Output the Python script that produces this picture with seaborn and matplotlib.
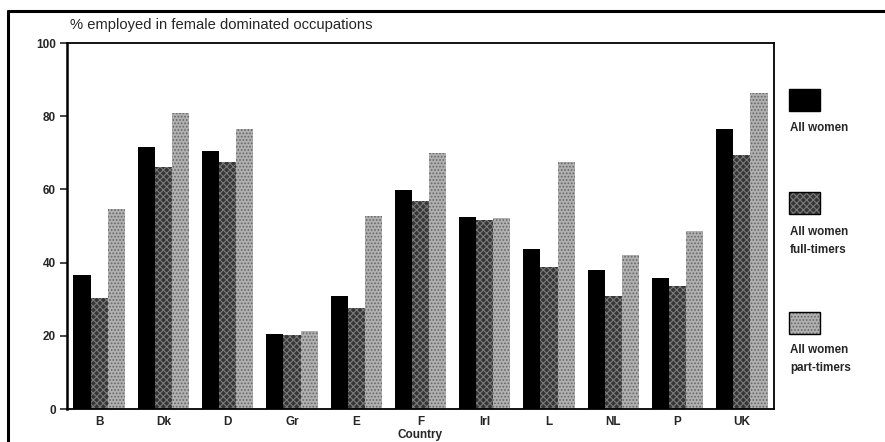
import matplotlib
matplotlib.use("Agg")
import matplotlib.pyplot as plt
from matplotlib.lines import Line2D
from matplotlib.patches import Rectangle
import seaborn as sns
import pandas as pd

countries = ["B", "Dk", "D", "Gr", "E", "F", "Irl", "L", "NL", "P", "UK"]
all_women = [36.5, 71.7, 70.5, 20.5, 30.9, 59.8, 52.5, 43.6, 37.9, 35.8, 76.4]
full_timers = [30.3, 66.0, 67.5, 20.3, 27.7, 56.9, 51.7, 38.7, 30.9, 33.6, 69.3]
part_timers = [54.7, 81.0, 76.6, 21.2, 52.7, 70.0, 52.1, 67.5, 42.1, 48.7, 86.3]
series = ["All women", "All women\nfull-timers", "All women\npart-timers"]
yticks = [0, 20, 40, 60, 80, 100]

df = pd.DataFrame({
    "Country": countries * 3,
    "value": all_women + full_timers + part_timers,
    "group": [series[0]] * len(countries) + [series[1]] * len(countries)
    + [series[2]] * len(countries),
})

sns.set_theme(style="white")
plt.rcParams["font.family"] = ["Liberation Sans", "DejaVu Sans"]
plt.rcParams["hatch.linewidth"] = 0.8

colors = ["#000000", "#363636", "#b0b0b0"]
hatches = [None, "xxxxx", "....."]
hatch_cols = [None, "#7a7a7a", "#666666"]

fig = plt.figure(figsize=(8.85, 4.42), dpi=100)
ax = fig.add_axes([67 / 885, 1 - 409 / 442, (774 - 67) / 885, (409 - 43) / 442])

sns.barplot(data=df, x="Country", y="value", hue="group", hue_order=series,
            palette=colors, width=0.8, saturation=1, linewidth=0,
            legend=False, ax=ax)

for cont, col, h, hc in zip(ax.containers, colors, hatches, hatch_cols):
    for bar in cont:
        if h:
            bar.set_hatch(h)
            bar.set_edgecolor(hc)
            bar.set_linewidth(0)

ax.set_xlim(-0.5, len(countries) - 0.5)
ax.set_ylim(0, 100)
ax.set_yticks(yticks)
ax.set_yticklabels([str(t) for t in yticks], fontsize=8.5, fontweight="bold")
ax.tick_params(axis="y", direction="out", length=5, width=1.2, pad=3, left=True)
ax.tick_params(axis="x", length=0, pad=5)
for lab in ax.get_xticklabels():
    lab.set_fontsize(8.5)
    lab.set_fontweight("bold")
ax.set_xlabel("Country", fontsize=8.5, fontweight="bold", labelpad=1)
ax.set_ylabel("")
for s in ax.spines.values():
    s.set_visible(True)
    s.set_color("black")
    s.set_linewidth(1.3)
ax.spines["left"].set_linewidth(1.8)

fig.text(70 / 885, 1 - 25 / 442, "% employed in female dominated occupations",
         fontsize=10.6, ha="left", va="center")

# Outer frame (left and top edges)
fig.add_artist(Line2D([8 / 885, 8 / 885], [0, 1 - 11 / 442], color="black",
                      lw=2.2, transform=fig.transFigure))
fig.add_artist(Line2D([8 / 885, 1], [1 - 11 / 442, 1 - 11 / 442], color="black",
                      lw=2.2, transform=fig.transFigure))

# Legend: swatch with the label underneath
swatch_tops = [89, 192, 312]
label_tops = [122, 226, 344]
for top, ltop, col, h, hc, lab in zip(swatch_tops, label_tops, colors, hatches,
                                      hatch_cols, series):
    rect = Rectangle((789 / 885, 1 - (top + 22) / 442), 31 / 885, 22 / 442,
                     transform=fig.transFigure, facecolor=col,
                     edgecolor=hc if h else col, hatch=h, linewidth=0)
    fig.add_artist(rect)
    fig.add_artist(Rectangle((789 / 885, 1 - (top + 22) / 442), 31 / 885, 22 / 442,
                             transform=fig.transFigure, facecolor="none",
                             edgecolor="black", linewidth=1.0))
    fig.text(790 / 885, 1 - ltop / 442, lab, fontsize=8.4, fontweight="bold",
             ha="left", va="top", linespacing=1.65)

fig.savefig("out.png", dpi=100)
